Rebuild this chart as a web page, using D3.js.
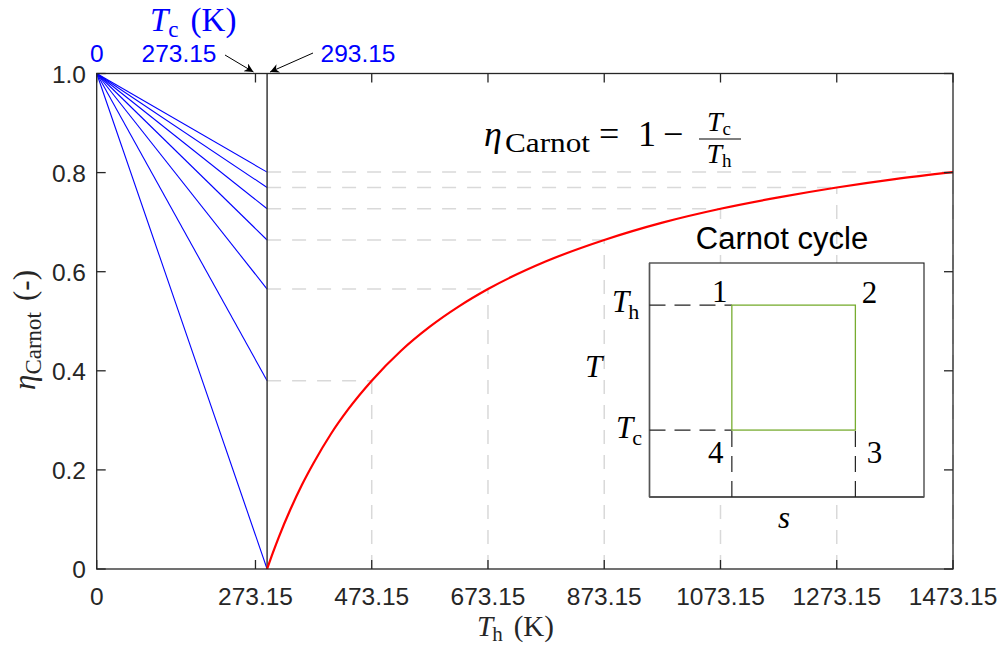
<!DOCTYPE html>
<html>
<head>
<meta charset="utf-8">
<script src="https://cdn.jsdelivr.net/npm/d3@7"></script>
<style>
  html, body { margin: 0; padding: 0; background: #fff; }
  svg { display: block; }
  .sans { font-family: "Liberation Sans", Arial, sans-serif; }
  .serif { font-family: "Liberation Serif", "Times New Roman", serif; }
</style>
</head>
<body>
<svg id="chart" width="1003" height="651"></svg>
<script>
// Cold reservoir temperature of the reference case (K)
const coldTemp = 293.15;
const coldTempAlt = 273.15;

// Hot reservoir temperatures with their efficiencies (guide lines and blue rays)
const hotTemps = [293.15, 473.15, 673.15, 873.15, 1073.15, 1273.15, 1473.15];
const hotEff   = [0, 0.380, 0.565, 0.664, 0.727, 0.770, 0.801];

// Efficiency curve samples (Th in K, eta)
const curveTh  = [293.15, 303.15, 313.15, 333.15, 353.15, 373.15, 403.15, 433.15, 473.15, 523.15,
                  573.15, 623.15, 673.15, 773.15, 873.15, 973.15, 1073.15, 1173.15, 1273.15, 1373.15, 1473.15];
const curveEta = [0, 0.033, 0.064, 0.120, 0.170, 0.214, 0.273, 0.323, 0.380, 0.440,
                  0.489, 0.530, 0.565, 0.621, 0.664, 0.699, 0.727, 0.750, 0.770, 0.787, 0.801];

// Axis ticks
const xTicks = [0, 273.15, 473.15, 673.15, 873.15, 1073.15, 1273.15, 1473.15];
const yTicks = [0, 0.2, 0.4, 0.6, 0.8, 1.0];

// Inset T-s diagram: entropy and temperature levels of the cycle (normalised)
const cycleS = [0.30, 0.75];
const cycleT = [0.286, 0.82];
const cycleLabels = ["1", "2", "3", "4"];

const svg = d3.select("#chart");
const m = { left: 96.7, right: 953, top: 73.5, bottom: 569 };

const x = d3.scaleLinear().domain([0, 1473.15]).range([m.left, m.right]);
const y = d3.scaleLinear().domain([0, 1]).range([m.bottom, m.top]);

const axisColor = "#262626";
const tickLen = 9;

// symbol with a roman subscript, then optional trailing text with a gap
function mathLabel(sel, sym, sub, opts) {
  sel.append("tspan").attr("font-style", "italic").text(sym);
  sel.append("tspan").attr("font-size", opts.subSize).attr("dy", opts.subShift)
    .attr("dx", opts.subDx || 0).text(sub);
  if (opts.tail) {
    sel.append("tspan").attr("dy", -opts.subShift).attr("dx", opts.tailDx || 0).text(opts.tail);
  }
  return sel;
}

// gray dashed guide lines
const guide = svg.append("g")
  .attr("stroke", "#d9d9d9").attr("stroke-width", 1.5)
  .attr("stroke-dasharray", "14,11").attr("fill", "none");
hotTemps.forEach((t, i) => {
  if (i === 0) return;
  guide.append("line")
    .attr("x1", x(coldTemp)).attr("x2", x(t))
    .attr("y1", y(hotEff[i])).attr("y2", y(hotEff[i]));
  guide.append("line")
    .attr("x1", x(t)).attr("x2", x(t))
    .attr("y1", y(0)).attr("y2", y(hotEff[i]));
});

// blue rays from (0, 1) to each efficiency at the cold temperature
const rays = svg.append("g").attr("stroke", "#0000ff").attr("stroke-width", 1.1);
hotEff.forEach(e => {
  rays.append("line")
    .attr("x1", x(0)).attr("y1", y(1))
    .attr("x2", x(coldTemp)).attr("y2", y(e));
});

// vertical marker at the cold temperature
svg.append("line")
  .attr("x1", x(coldTemp)).attr("x2", x(coldTemp))
  .attr("y1", y(0)).attr("y2", y(1))
  .attr("stroke", "#3a3a3a").attr("stroke-width", 1.5);

// efficiency curve
const curveData = curveTh.map((t, i) => [t, curveEta[i]]);
svg.append("path")
  .datum(curveData)
  .attr("fill", "none").attr("stroke", "#ff0000").attr("stroke-width", 2.2)
  .attr("d", d3.line().x(d => x(d[0])).y(d => y(d[1])).curve(d3.curveMonotoneX));

// axes box and ticks
const axes = svg.append("g").attr("stroke", axisColor).attr("stroke-width", 1.3);
axes.append("rect")
  .attr("x", m.left).attr("y", m.top)
  .attr("width", m.right - m.left).attr("height", m.bottom - m.top)
  .attr("fill", "none");
xTicks.forEach(t => {
  axes.append("line").attr("x1", x(t)).attr("x2", x(t)).attr("y1", y(0)).attr("y2", y(0) - tickLen);
  axes.append("line").attr("x1", x(t)).attr("x2", x(t)).attr("y1", y(1)).attr("y2", y(1) + tickLen);
});
yTicks.forEach(t => {
  axes.append("line").attr("x1", x(0)).attr("x2", x(0) + tickLen).attr("y1", y(t)).attr("y2", y(t));
  axes.append("line").attr("x1", m.right).attr("x2", m.right - tickLen).attr("y1", y(t)).attr("y2", y(t));
});

// tick labels
svg.append("g").attr("class", "sans").attr("font-size", 24.5).attr("fill", axisColor)
  .selectAll("text").data(xTicks).join("text")
  .attr("x", d => x(d)).attr("y", 605).attr("text-anchor", "middle")
  .text(d => d === 0 ? "0" : d.toFixed(2));
svg.append("g").attr("class", "sans").attr("font-size", 24.5).attr("fill", axisColor)
  .selectAll("text").data(yTicks).join("text")
  .attr("x", 86).attr("y", d => y(d) + 9).attr("text-anchor", "end")
  .text(d => d === 0 ? "0" : d.toFixed(1));

// axis labels
mathLabel(svg.append("text").attr("class", "serif").attr("font-size", 29).attr("fill", axisColor)
  .attr("x", 477).attr("y", 636), "T", "h",
  { subSize: 21, subShift: 5, subDx: -1, tail: "(K)", tailDx: 11 });

mathLabel(svg.append("text").attr("class", "serif").attr("font-size", 31).attr("fill", axisColor)
  .attr("transform", "translate(35,390) rotate(-90)"), "η", "Carnot",
  { subSize: 23, subShift: 6, subDx: 0, tail: "(-)", tailDx: 11 });

// blue annotations above the plot
const blue = "#0000ff";
svg.append("text").attr("class", "sans").attr("font-size", 24.5).attr("fill", blue)
  .attr("x", x(0)).attr("y", 62).attr("text-anchor", "middle").text("0");
svg.append("text").attr("class", "sans").attr("font-size", 24.5).attr("fill", blue)
  .attr("x", 179).attr("y", 62).attr("text-anchor", "middle").text(coldTempAlt.toFixed(2));
svg.append("text").attr("class", "sans").attr("font-size", 24.5).attr("fill", blue)
  .attr("x", 358).attr("y", 62).attr("text-anchor", "middle").text(coldTemp.toFixed(2));
mathLabel(svg.append("text").attr("class", "serif").attr("font-size", 33).attr("fill", blue)
  .attr("x", 150).attr("y", 31), "T", "c",
  { subSize: 23, subShift: 6, subDx: 0, tail: "(K)", tailDx: 12 });

// arrows pointing at the two cold temperatures
const defs = svg.append("defs");
defs.append("marker").attr("id", "head").attr("viewBox", "0 0 10 10")
  .attr("refX", 10).attr("refY", 5).attr("markerWidth", 16).attr("markerHeight", 9)
  .attr("markerUnits", "userSpaceOnUse").attr("orient", "auto")
  .append("path").attr("d", "M0,0 L10,5 L0,10 L3,5 Z").attr("fill", "#000");
svg.append("line").attr("x1", 225).attr("y1", 55).attr("x2", x(coldTempAlt) - 2).attr("y2", 72)
  .attr("stroke", "#000").attr("stroke-width", 1).attr("marker-end", "url(#head)");
svg.append("line").attr("x1", 313).attr("y1", 53).attr("x2", x(coldTemp) + 3).attr("y2", 72)
  .attr("stroke", "#000").attr("stroke-width", 1).attr("marker-end", "url(#head)");

// efficiency formula
const fm = svg.append("g").attr("class", "serif").attr("fill", "#000");
fm.append("text").attr("font-size", 36).attr("font-style", "italic").attr("x", 484).attr("y", 146).text("η");
fm.append("text").attr("font-size", 27).attr("x", 505).attr("y", 152)
  .attr("textLength", 85).attr("lengthAdjust", "spacingAndGlyphs").text("Carnot");
fm.append("text").attr("font-size", 36).attr("x", 599).attr("y", 146).text("=");
fm.append("text").attr("font-size", 36).attr("x", 638).attr("y", 146).text("1");
fm.append("text").attr("font-size", 36).attr("x", 663).attr("y", 146).text("−");
const num = fm.append("text").attr("font-size", 28).attr("x", 719).attr("y", 131).attr("text-anchor", "middle");
num.append("tspan").attr("font-style", "italic").text("T");
num.append("tspan").attr("font-size", 19).attr("dy", 4).text("c");
fm.append("line").attr("x1", 699).attr("x2", 741).attr("y1", 139).attr("y2", 139)
  .attr("stroke", "#000").attr("stroke-width", 1.2);
const den = fm.append("text").attr("font-size", 28).attr("x", 719).attr("y", 163).attr("text-anchor", "middle");
den.append("tspan").attr("font-style", "italic").text("T");
den.append("tspan").attr("font-size", 19).attr("dy", 4).text("h");

// inset: Carnot cycle on a T-s diagram
const ib = { left: 649.5, right: 924, top: 263, bottom: 497 };
const sx = d3.scaleLinear().domain([0, 1]).range([ib.left, ib.right]);
const ty = d3.scaleLinear().domain([0, 1]).range([ib.bottom, ib.top]);
const inset = svg.append("g");
inset.append("rect").attr("x", ib.left).attr("y", ib.top)
  .attr("width", ib.right - ib.left).attr("height", ib.bottom - ib.top)
  .attr("fill", "#fff").attr("stroke", "#1a1a1a").attr("stroke-width", 1.1);
inset.append("line").attr("x1", ib.left).attr("x2", ib.right).attr("y1", ib.bottom).attr("y2", ib.bottom)
  .attr("stroke", "#555").attr("stroke-width", 2);
inset.append("line").attr("x1", ib.left).attr("x2", ib.left).attr("y1", ib.top).attr("y2", ib.bottom)
  .attr("stroke", "#555").attr("stroke-width", 1.6);

const idash = inset.append("g").attr("stroke", "#222").attr("stroke-width", 1.2)
  .attr("stroke-dasharray", "16,9");
cycleT.forEach(t => {
  idash.append("line").attr("x1", sx(0)).attr("x2", sx(cycleS[0])).attr("y1", ty(t)).attr("y2", ty(t));
});
cycleS.forEach(s => {
  idash.append("line").attr("x1", sx(s)).attr("x2", sx(s)).attr("y1", ty(0)).attr("y2", ty(cycleT[0]));
});
inset.append("rect")
  .attr("x", sx(cycleS[0])).attr("y", ty(cycleT[1]))
  .attr("width", sx(cycleS[1]) - sx(cycleS[0])).attr("height", ty(cycleT[0]) - ty(cycleT[1]))
  .attr("fill", "none").attr("stroke", "#77ac30").attr("stroke-width", 1.3);

inset.append("text").attr("class", "sans").attr("font-size", 31).attr("fill", "#000")
  .attr("x", 782).attr("y", 249).attr("text-anchor", "middle").text("Carnot cycle");

const il = inset.append("g").attr("class", "serif").attr("fill", "#000").attr("font-size", 31);
mathLabel(il.append("text").attr("x", 612).attr("y", 312), "T", "h", { subSize: 22, subShift: 7, subDx: -1 });
mathLabel(il.append("text").attr("x", 616).attr("y", 438), "T", "c", { subSize: 22, subShift: 7, subDx: -1 });
il.append("text").attr("x", 585).attr("y", 377).attr("font-style", "italic").text("T");
il.append("text").attr("x", 784).attr("y", 528).attr("font-style", "italic").attr("text-anchor", "middle").text("s");
const numPos = [
  [sx(cycleS[0]) - 12, ty(cycleT[1]) - 3],
  [sx(cycleS[1]) + 14, ty(cycleT[1]) - 2],
  [sx(cycleS[1]) + 19, ty(cycleT[0]) + 33],
  [sx(cycleS[0]) - 16, ty(cycleT[0]) + 33]
];
cycleLabels.forEach((lab, i) => {
  il.append("text").attr("x", numPos[i][0]).attr("y", numPos[i][1]).attr("text-anchor", "middle").text(lab);
});
</script>
</body>
</html>
